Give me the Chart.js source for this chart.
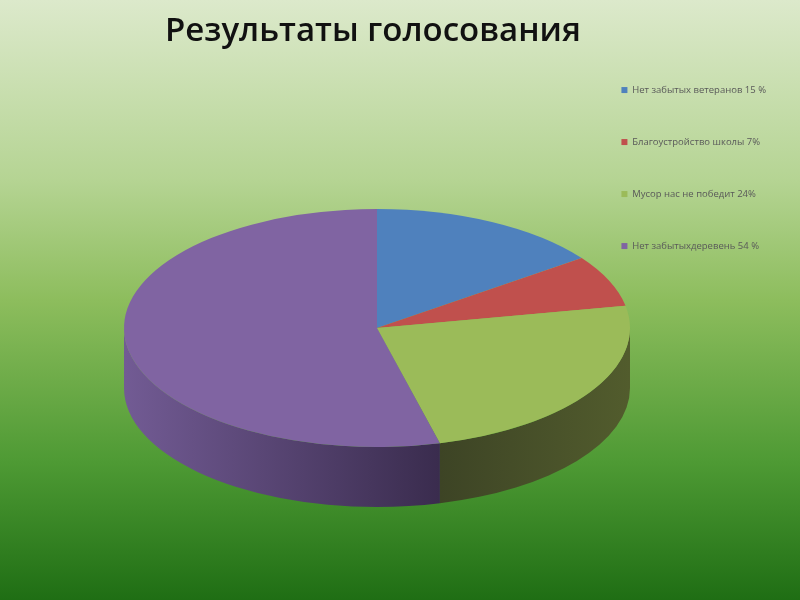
<!DOCTYPE html>
<html>
<head>
<meta charset="utf-8">
<script src="https://cdn.jsdelivr.net/npm/chart.js@4.4.0/dist/chart.umd.min.js"></script>
<style>
html,body{margin:0;padding:0;}
body{width:800px;height:600px;background:linear-gradient(to bottom,#dce9cb 0%,#b5d493 30%,#8dbd5d 50%,#4e9a34 77%,#1f6e14 100%);}
#wrap{position:relative;width:800px;height:600px;}
</style>
</head>
<body>
<div id="wrap"><canvas id="c" width="800" height="600"></canvas></div>
<script>
const chartTitle = 'Результаты голосования';
const categories = ['Нет забытых ветеранов 15 %', 'Благоустройство школы 7%', 'Мусор нас не победит 24%', 'Нет забытыхдеревень 54 %'];
const values = [15, 7, 24, 54];
const topColors = ['#4f81bd', '#c0504d', '#9bbb59', '#8064a2'];
const sideColors = [['#3a5f8c', '#2c4a6e'], ['#8e3b39', '#6e2d2b'], ['#3d4425', '#525c2d'], ['#725b94', '#3a2c4e']];

const CX = 377, CY = 328, RX = 253, RY = 119, DEPTH = 60;

const pie3d = {
  id: 'pie3d',
  beforeDatasetsDraw(chart) {
    const ctx = chart.ctx;
    const meta = chart.getDatasetMeta(0);
    ctx.save();
    meta.data.forEach((arc, i) => {
      let s = arc.startAngle, e = arc.endAngle;
      const a0 = Math.max(s, 0), a1 = Math.min(e, Math.PI);
      if (a1 <= a0) return;
      const x0 = CX + RX * Math.cos(a0), x1 = CX + RX * Math.cos(a1);
      const g = ctx.createLinearGradient(Math.min(x0, x1), 0, Math.max(x0, x1), 0);
      g.addColorStop(0, sideColors[i][0]);
      g.addColorStop(1, sideColors[i][1]);
      ctx.beginPath();
      ctx.ellipse(CX, CY, RX, RY, 0, a0, a1, false);
      ctx.lineTo(CX + RX * Math.cos(a1), CY + DEPTH + RY * Math.sin(a1));
      ctx.ellipse(CX, CY + DEPTH, RX, RY, 0, a1, a0, true);
      ctx.closePath();
      ctx.fillStyle = g;
      ctx.fill();
    });
    const a = meta.data[0];
    const r = a.outerRadius;
    ctx.translate(CX, CY);
    ctx.scale(RX / r, RY / r);
    ctx.translate(-a.x, -a.y);
  },
  afterDatasetsDraw(chart) {
    chart.ctx.restore();
  }
};

new Chart(document.getElementById('c'), {
  type: 'pie',
  data: {
    labels: categories,
    datasets: [{
      data: values,
      backgroundColor: topColors,
      borderWidth: 0,
      clip: false
    }]
  },
  options: {
    responsive: false,
    animation: false,
    layout: { padding: { left: 165, top: 12, right: 24, bottom: 10 } },
    plugins: {
      tooltip: { enabled: false },
      title: {
        display: true,
        text: chartTitle,
        align: 'start',
        color: '#111111',
        font: { family: 'Open Sans', size: 33, weight: '600' },
        padding: { top: 0, bottom: 49 }
      },
      legend: {
        position: 'right',
        align: 'start',
        title: {
          display: true,
          text: ' ',
          font: { family: 'Open Sans', size: 9 },
          padding: { top: 9, bottom: 11 }
        },
        labels: {
          boxWidth: 6,
          boxHeight: 6,
          padding: 42.5,
          color: '#595959',
          font: { family: 'Open Sans', size: 9.5 }
        }
      }
    }
  },
  plugins: [pie3d]
});
</script>
</body>
</html>
